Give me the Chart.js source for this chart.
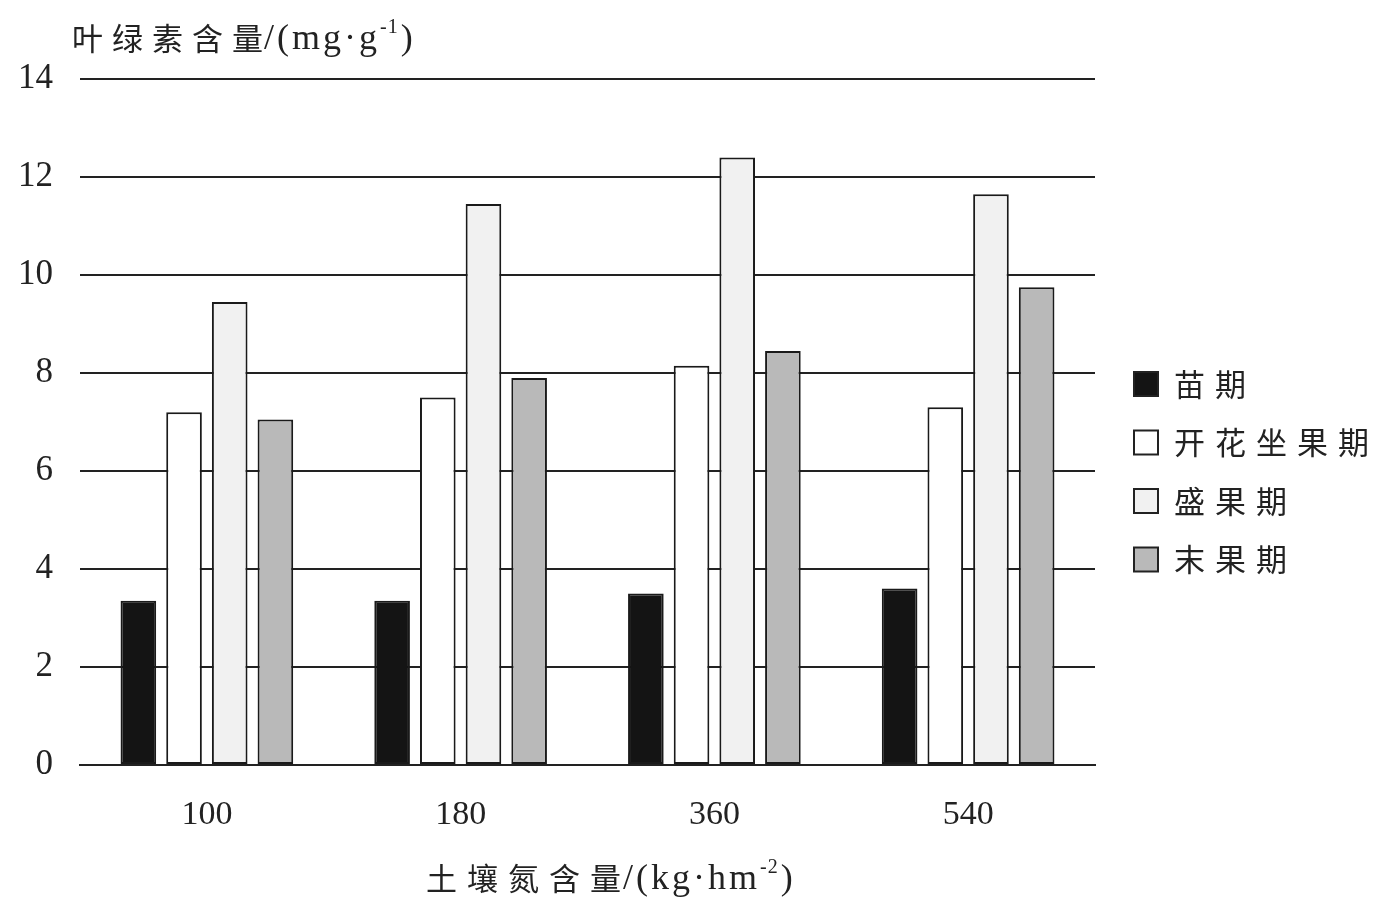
<!DOCTYPE html>
<html>
<head>
<meta charset="utf-8">
<script src="https://cdn.jsdelivr.net/npm/chart.js@4"></script>
<style>
  html, body { margin: 0; padding: 0; background: #fff; }
  #wrap { width: 1378px; height: 900px; }
</style>
</head>
<body>
<div id="wrap"><canvas id="myChart" width="1378" height="900"></canvas></div>
<script>
// 土壤氮含量 (kg·hm-2)
var categories = ['100', '180', '360', '540'];
// 叶绿素含量 (mg·g-1)
var seedling = [3.35, 3.35, 3.5, 3.6];      // 苗期
var flowering = [7.2, 7.5, 8.15, 7.3];      // 开花坐果期
var fullFruit = [9.45, 11.45, 12.4, 11.65]; // 盛果期
var lateFruit = [7.05, 7.9, 8.45, 9.75];    // 末果期
var yTicks = [0, 2, 4, 6, 8, 10, 12, 14];

var serif = "'Liberation Serif', 'DejaVu Serif', serif";
var cjk = "'Noto Sans CJK SC', 'Liberation Serif', serif";

/** 中文部分加字距，括号单位用衬线体 */
function drawTitle(ctx, parts, x, y) {
    parts.forEach(function (p) {
        ctx.font = p.font;
        ctx.letterSpacing = p.spacing;
        ctx.fillText(p.text, x, y + (p.dy || 0));
        x += ctx.measureText(p.text).width + (p.gap || 0);
    });
}

/** 轴标题和图例 */
var textPlugin = {
    id: 'textPlugin',
    afterDraw: function (chart) {
        var ctx = chart.ctx;
        ctx.save();
        ctx.fillStyle = '#222';
        ctx.textBaseline = 'middle';
        ctx.textAlign = 'left';
        drawTitle(ctx, [
            { text: '叶绿素含量', font: '31px ' + cjk, spacing: '9px', gap: -8 },
            { text: '/(mg·g', font: '36px ' + serif, spacing: '3px', dy: 2 },
            { text: '-1', font: '20px ' + serif, spacing: '1px', dy: -10, gap: 2 },
            { text: ')', font: '36px ' + serif, spacing: '0px', dy: 2 }
        ], 72, 38);
        drawTitle(ctx, [
            { text: '土壤氮含量', font: '31px ' + cjk, spacing: '10px', gap: -8 },
            { text: '/(kg·hm', font: '36px ' + serif, spacing: '3px', dy: 2 },
            { text: '-2', font: '20px ' + serif, spacing: '1px', dy: -10, gap: 2 },
            { text: ')', font: '36px ' + serif, spacing: '0px', dy: 2 }
        ], 426, 878);

        // 图例
        var ds = chart.data.datasets;
        ctx.font = '31px ' + cjk;
        ctx.letterSpacing = '10px';
        for (var i = 0; i < ds.length; i++) {
            var y = 384 + i * 58.5;
            ctx.fillStyle = ds[i].backgroundColor;
            ctx.fillRect(1134, y - 12, 24, 24);
            ctx.lineWidth = 2;
            ctx.strokeStyle = '#222';
            ctx.strokeRect(1134, y - 12, 24, 24);
            ctx.fillStyle = '#222';
            ctx.fillText(ds[i].label, 1174, y);
        }
        ctx.restore();
    }
};

var barStyle = {
    borderColor: '#1a1a1a',
    borderWidth: 2,
    borderSkipped: false,
    categoryPercentage: 0.72,
    barPercentage: 0.78
};

var ctx = document.getElementById('myChart').getContext('2d');
var myChart = new Chart(ctx, {
    type: 'bar',
    data: {
        labels: categories,
        datasets: [
            Object.assign({ label: '苗期', data: seedling, backgroundColor: '#141414' }, barStyle),
            Object.assign({ label: '开花坐果期', data: flowering, backgroundColor: '#ffffff' }, barStyle),
            Object.assign({ label: '盛果期', data: fullFruit, backgroundColor: '#f1f1f1' }, barStyle),
            Object.assign({ label: '末果期', data: lateFruit, backgroundColor: '#b9b9b9' }, barStyle)
        ]
    },
    options: {
        responsive: false,
        animation: false,
        layout: { padding: { left: 0, right: 283, top: 79, bottom: 0 } },
        plugins: {
            legend: { display: false },
            tooltip: { enabled: false }
        },
        scales: {
            x: {
                afterFit: function (scale) { scale.height = 135; },
                grid: { display: false },
                border: { display: true, color: '#222', width: 2 },
                ticks: {
                    color: '#222',
                    padding: 22,
                    font: { family: serif, size: 34 }
                }
            },
            y: {
                min: 0,
                max: 14,
                afterFit: function (scale) { scale.width = 80; },
                afterBuildTicks: function (scale) {
                    scale.ticks = yTicks.map(function (v) { return { value: v }; });
                },
                grid: { color: '#222', lineWidth: 2, drawTicks: false },
                border: { display: false },
                ticks: {
                    color: '#222',
                    padding: 27,
                    font: { family: serif, size: 35 }
                }
            }
        }
    },
    plugins: [textPlugin]
});
</script>
</body>
</html>
